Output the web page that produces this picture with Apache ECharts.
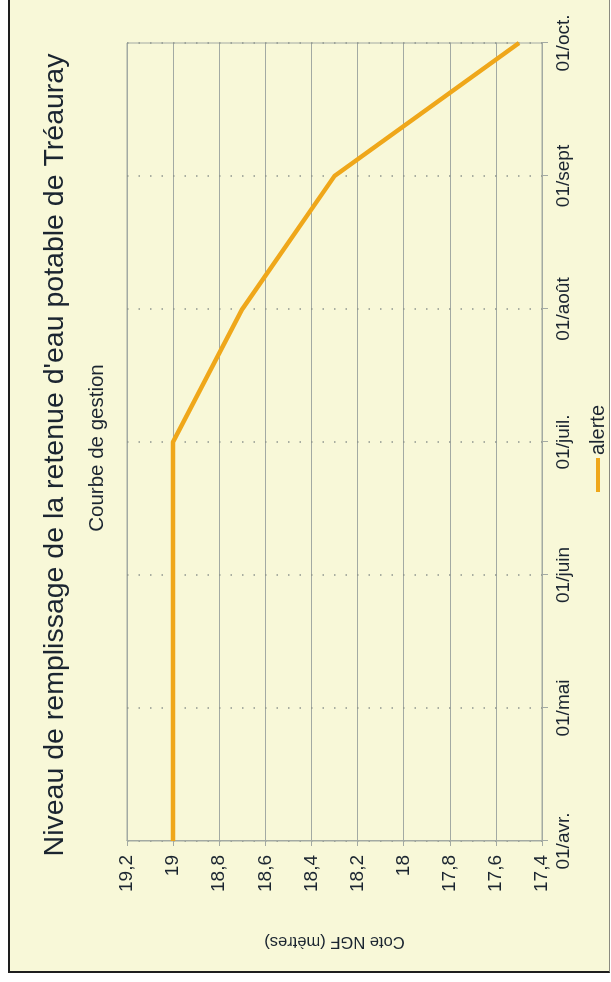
<!DOCTYPE html>
<html lang="fr">
<head>
<meta charset="utf-8">
<title>Niveau de remplissage de la retenue d'eau potable de Tréauray</title>
<script src="https://cdn.jsdelivr.net/npm/echarts@6/dist/echarts.min.js"></script>
<style>
  html, body { margin: 0; padding: 0; background: #ffffff; width: 611px; height: 982px; overflow: hidden; }
  #frame {
    position: absolute; left: 8px; top: -2px; width: 599px; height: 973px;
    background: #f8f8d8;
    border-left: 2px solid #1e1e1e; border-bottom: 2px solid #1e1e1e; border-right: 1px solid #8a8a80;
  }
  /* the chart is laid out landscape and turned a quarter turn counter-clockwise */
  #chart {
    position: absolute; left: 0; top: 0; width: 982px; height: 611px;
    transform-origin: 0 0;
    transform: translate(0, 982px) rotate(-90deg);
  }
</style>
</head>
<body>
<div id="frame"></div>
<div id="chart"></div>
<script>
// Courbe de gestion : cote d'alerte au premier de chaque mois
const months = ['01/avr.', '01/mai', '01/juin', '01/juil.', '01/août', '01/sept', '01/oct.'];
const alerte = [19, 19, 19, 19, 18.7, 18.3, 17.5];
const levelMin = 17.4;
const levelMax = 19.2;
const levelStep = 0.2;

const titleText = "Niveau de remplissage de la retenue d'eau potable de Tréauray";
const subtitleText = 'Courbe de gestion';
const axisNameText = 'Cote NGF (mètres)';
const seriesName = 'alerte';

const FONT = "'Liberation Sans', Arial, sans-serif";
const INK = '#1b2530';
const GRID = '#a3aaa3';

const chart = echarts.init(document.getElementById('chart'), null, { renderer: 'canvas', width: 982, height: 611 });

chart.setOption({
  backgroundColor: 'transparent',
  animation: false,
  title: [
    {
      text: titleText,
      left: 522, top: 36, textAlign: 'center',
      textStyle: { fontFamily: FONT, fontSize: 28.5, fontWeight: 'normal', color: INK }
    },
    {
      text: subtitleText,
      left: 529, top: 82, textAlign: 'center',
      textStyle: { fontFamily: FONT, fontSize: 20.5, fontWeight: 'normal', color: INK }
    }
  ],
  legend: {
    data: [seriesName],
    left: 485, top: 583,
    icon: 'rect', itemWidth: 34, itemHeight: 4, itemGap: 4,
    textStyle: { fontFamily: FONT, fontSize: 20, color: INK, padding: [0, 0, 0, -2] }
  },
  grid: {
    left: 141, right: 43, top: 127, bottom: 69,
    show: true, borderColor: GRID, borderWidth: 1, backgroundColor: 'transparent'
  },
  xAxis: {
    type: 'category',
    data: months,
    boundaryGap: false,
    axisLine: { show: true, lineStyle: { color: GRID, width: 1 } },
    axisTick: { show: true, length: 6, lineStyle: { color: GRID } },
    axisLabel: { fontFamily: FONT, fontSize: 19, color: INK, margin: 12 },
    splitLine: { show: true, lineStyle: { color: '#8e958e', width: 1.5, type: [1.5, 10] } }
  },
  yAxis: {
    type: 'value',
    min: levelMin, max: levelMax, interval: levelStep,
    name: axisNameText,
    nameLocation: 'middle', nameRotate: 90, nameGap: 92,
    nameTextStyle: { fontFamily: FONT, fontSize: 16.5, color: INK },
    axisLine: { show: true, lineStyle: { color: GRID, width: 1 } },
    axisTick: { show: true, length: 5, lineStyle: { color: GRID } },
    axisLabel: {
      fontFamily: FONT, fontSize: 19, color: INK, margin: 14,
      formatter: v => String(Math.round(v * 10) / 10).replace('.', ',')
    },
    splitLine: { show: true, lineStyle: { color: GRID, width: 1 } }
  },
  series: [{
    name: seriesName,
    type: 'line',
    data: alerte,
    showSymbol: false,
    symbol: 'none',
    lineStyle: { color: '#efa71a', width: 4.5, join: 'round' },
    itemStyle: { color: '#efa71a' }
  }]
});
</script>
</body>
</html>
